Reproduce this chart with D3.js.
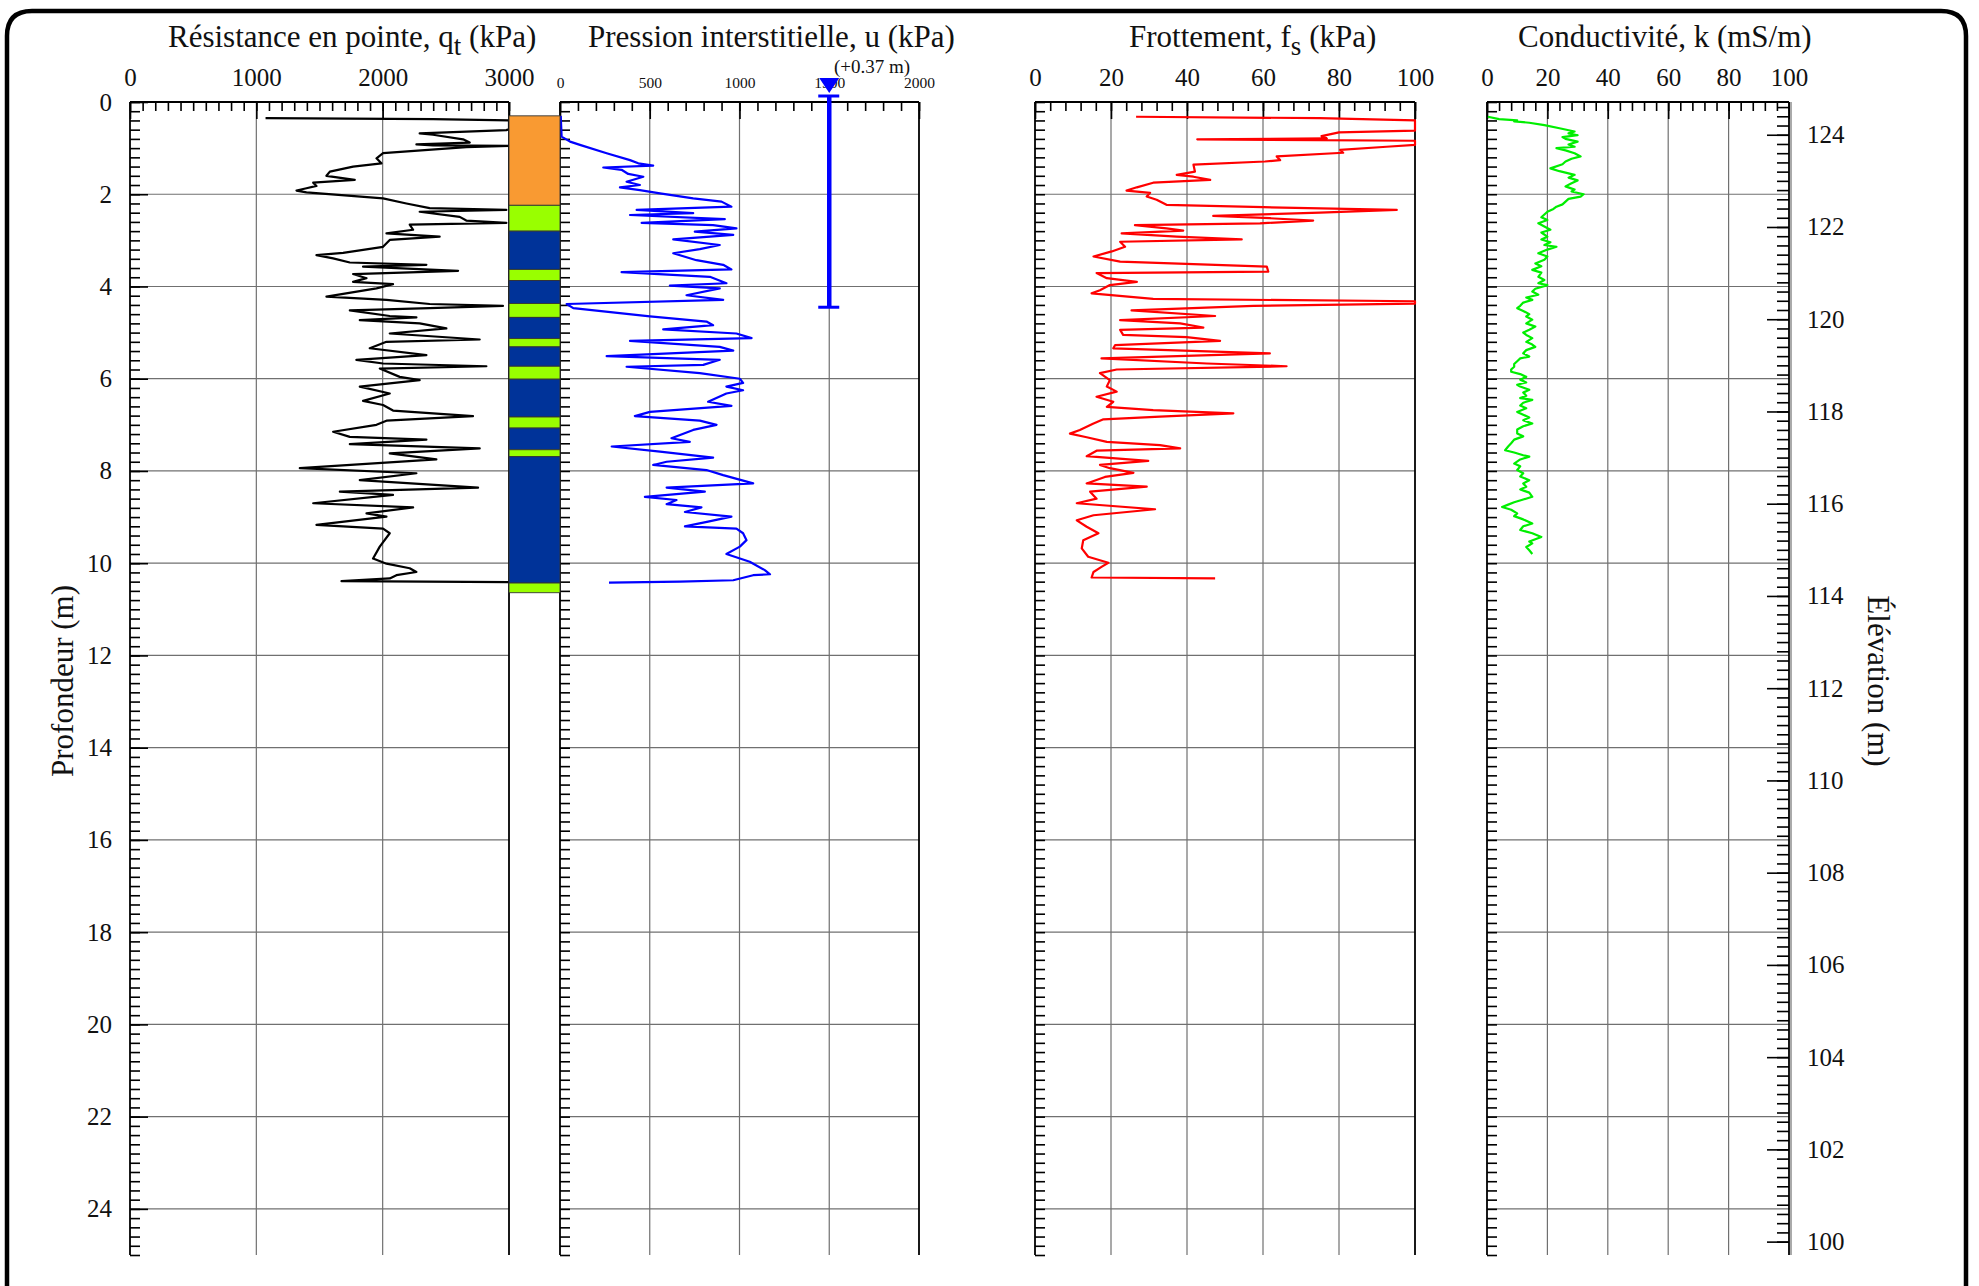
<!DOCTYPE html>
<html>
<head>
<meta charset="utf-8">
<script src="https://cdn.jsdelivr.net/npm/d3@7"></script>
<style>
  body { margin: 0; background: #fff; }
  text { font-family: 'Liberation Serif', 'Times New Roman', serif; fill: #111; }
  .grid line { stroke: #707070; stroke-width: 1.2; }
  .frame line { stroke: #000; stroke-width: 1.8; }
  .ticks line { stroke: #000; stroke-width: 1.6; }
  .ticks path { display: none; }
  .curve { fill: none; stroke-width: 2.2; stroke-linejoin: round; }
</style>
</head>
<body>
<svg width="1979" height="1286"></svg>
<script>
// ---- data ----
// depth (m), value
var qtData = [[0.35,1073],[0.37,2400],[0.40,3000],[0.59,3000],[0.61,2979],[0.68,2293],[0.71,2399],[0.81,2636],[0.88,2689],[0.92,2267],[0.94,2399],[0.95,3000],[0.98,2662],
  [1.11,2003],[1.22,1951],[1.33,1990],[1.40,1766],[1.51,1582],[1.60,1555],[1.69,1779],[1.75,1450],[1.82,1476],[1.87,1397],[1.92,1318],[1.96,1397],
  [2.09,2003],[2.20,2188],[2.30,2372],[2.34,2979],[2.38,2293],[2.49,2610],[2.57,2662],[2.62,2979],[2.66,2214],[2.77,2241],[2.85,2030],[2.92,2451],[2.99,2056],
  [3.14,2003],[3.27,1687],[3.32,1476],[3.39,1608],[3.48,1740],[3.53,2346],[3.57,1845],[3.66,2597],[3.73,1766],[3.82,1872],[3.90,1766],[3.95,2082],
  [4.04,1951],[4.22,1555],[4.29,2030],[4.38,2372],[4.42,2952],[4.47,2372],[4.52,1740],[4.64,2056],[4.67,2267],[4.73,1819],[4.80,2293],[4.91,2504],
  [5.02,2056],[5.15,2768],[5.20,2030],[5.34,1898],[5.49,2346],[5.59,1792],[5.67,2003],[5.73,2821],[5.78,1977],[5.96,2135],
  [6.03,2293],[6.17,1819],[6.32,2056],[6.48,1845],[6.57,2003],[6.69,2082],[6.81,2715],[6.91,2030],
  [7.00,1951],[7.15,1608],[7.26,1740],[7.32,2346],[7.42,1740],[7.51,2768],[7.62,2056],[7.75,2425],[7.94,1344],
  [8.05,2267],[8.20,1819],[8.36,2755],[8.45,1661],[8.52,2082],[8.70,1450],[8.79,2241],[8.92,1872],[8.99,2030],
  [9.17,1476],[9.25,2003],[9.35,2056],[9.64,1977],[9.90,1924],[10.01,2030],[10.11,2214],[10.19,2267],[10.26,2109],[10.33,2056],[10.39,1674],[10.41,3000]];

var uData = [[0.30,4],[0.75,9],[0.86,56],[0.93,111],[1.11,260],[1.26,390],[1.33,436],[1.38,519],[1.42,241],[1.47,343],[1.56,380],[1.62,464],[1.73,371],[1.80,445],[1.85,334],[1.91,445],[1.98,557],
  [2.09,742],[2.16,900],[2.27,955],[2.34,427],[2.41,742],[2.45,390],[2.54,918],[2.62,455],[2.67,853],[2.74,983],[2.81,751],[2.88,965],[2.98,631],
  [3.10,890],[3.19,779],[3.28,631],[3.43,760],[3.53,909],[3.63,955],[3.69,343],[3.79,835],[3.93,927],[3.98,612],
  [4.04,890],[4.19,705],[4.29,909],[4.38,37],[4.47,74],[4.65,501],[4.76,816],[4.84,853],[4.93,575],
  [5.02,983],[5.12,1067],[5.18,390],[5.31,890],[5.39,965],[5.51,260],[5.59,890],[5.70,798],[5.74,371],[5.88,779],
  [6.00,1002],[6.09,1020],[6.17,927],[6.25,1020],[6.32,927],[6.50,825],[6.59,955],[6.72,501],[6.81,417],[6.91,779],
  [7.00,872],[7.11,742],[7.29,621],[7.37,723],[7.47,288],[7.58,557],[7.71,853],[7.80,594],[7.87,519],[7.98,816],
  [8.09,909],[8.27,1076],[8.36,594],[8.45,807],[8.56,473],[8.63,649],[8.72,594],[8.79,788],[8.89,696],[8.99,955],
  [9.10,825],[9.20,696],[9.25,983],[9.35,1020],[9.50,1039],[9.64,1002],[9.80,927],[9.97,1057],
  [10.15,1141],[10.24,1170],[10.26,1076],[10.37,965],[10.40,668],[10.42,273]];

var fsData = [[0.32,26.6],[0.35,75],[0.40,100],[0.62,100],[0.66,80],[0.74,75.4],[0.79,76.8],[0.81,42.7],[0.84,100],[0.93,100],[0.97,92.5],
  [1.04,80.3],[1.10,81.1],[1.18,63.6],[1.26,64.5],[1.29,60.5],[1.36,41.7],[1.51,42.1],[1.58,37.3],[1.62,41.7],[1.69,46.1],[1.75,31.1],[1.85,26.8],[1.92,24.1],[1.97,30.3],
  [2.05,29.4],[2.12,32],[2.23,34.6],[2.28,60.1],[2.34,95.2],[2.40,75],[2.47,46.9],[2.52,61.8],[2.57,73.2],[2.63,59.2],[2.67,26.3],[2.74,34.6],[2.79,39],[2.85,22.8],[2.92,37.3],[2.98,54.4],
  [3.03,22.4],[3.14,23.7],[3.24,20.2],[3.35,15.4],[3.46,22.4],[3.57,61],[3.68,61.4],[3.71,16.2],[3.82,18.9],[3.90,26.8],[3.97,19.7],
  [4.08,17.1],[4.15,14.9],[4.27,31.1],[4.32,100],[4.37,100],[4.42,57.5],[4.52,25.4],[4.64,47.4],[4.73,22.4],[4.80,38.2],[4.89,44.3],[4.94,22.4],
  [5.05,23.2],[5.10,39.9],[5.18,48.7],[5.27,21.1],[5.34,20.6],[5.45,61.8],[5.56,17.5],[5.67,45.2],[5.73,66.2],[5.80,21.5],[5.88,17.1],
  [6.03,19.7],[6.17,18.9],[6.28,21.5],[6.39,16.2],[6.50,20.6],[6.61,18.9],[6.68,31.1],[6.75,52.2],[6.82,32.9],[6.88,18],[6.97,15.4],
  [7.11,11.8],[7.19,9.2],[7.27,13.6],[7.37,18.9],[7.44,32.9],[7.51,38.2],[7.56,16.2],[7.68,13.6],[7.78,29.8],[7.87,17.1],[7.94,19.7],
  [8.04,25.9],[8.13,18.4],[8.27,13.6],[8.34,29.4],[8.45,14.5],[8.60,16.2],[8.70,11],[8.83,31.6],[8.96,15.4],
  [9.07,11],[9.21,13.6],[9.35,16.7],[9.50,12.7],[9.68,12.3],[9.86,14],[9.99,19.3],[10.08,17.5],[10.19,15.4],[10.31,14.9],[10.33,47.4]];

var kData = [[0.32,0.3],[0.37,4],[0.40,10],[0.42,9],[0.45,14],[0.50,19],[0.57,24],[0.64,29],[0.68,27],[0.72,30],[0.76,25],[0.80,26],[0.86,30],[0.92,27],[0.97,29],
  [1.00,23],[1.05,26],[1.11,29],[1.18,31],[1.23,28],[1.29,26],[1.35,25],[1.44,21],[1.50,24],[1.58,29],[1.64,27],[1.70,30],[1.76,28],[1.83,26],[1.90,29],[1.94,28],
  [2.00,32],[2.05,31],[2.10,27],[2.16,26],[2.22,25],[2.27,23],[2.32,22],[2.38,20],[2.44,19],[2.50,18],[2.56,20],[2.63,17],[2.70,19],[2.77,21],[2.83,18],[2.92,20],[2.98,18],
  [3.04,21],[3.10,19],[3.14,23],[3.20,20],[3.28,17],[3.35,20],[3.42,19],[3.50,16],[3.56,18],[3.64,15],[3.70,18],[3.79,17],[3.86,19],[3.93,17],[3.97,20],
  [4.05,16],[4.11,15],[4.18,17],[4.24,13],[4.29,15],[4.35,12],[4.42,11],[4.47,10],[4.53,12],[4.60,14],[4.65,13],[4.72,15],[4.80,13],[4.87,16],[4.94,14],
  [5.00,12],[5.05,13],[5.12,15],[5.20,13],[5.26,15],[5.31,16],[5.38,13],[5.45,12],[5.52,14],[5.56,11],[5.62,10],[5.68,9],[5.74,9],[5.80,8],[5.85,8],[5.90,11],[5.96,13],
  [6.02,11],[6.08,13],[6.13,10],[6.17,11],[6.24,14],[6.30,12],[6.37,13],[6.42,11],[6.46,15],[6.52,12],[6.58,11],[6.64,13],[6.72,10],[6.78,12],[6.84,14],[6.90,12],[6.97,15],
  [7.03,12],[7.10,10],[7.19,10],[7.25,12],[7.32,9],[7.40,8],[7.47,7],[7.55,6],[7.60,9],[7.66,12],[7.69,14],[7.75,11],[7.84,9],[7.90,11],[7.98,10],
  [8.05,12],[8.12,11],[8.20,14],[8.27,12],[8.34,13],[8.40,11],[8.47,14],[8.56,15],[8.62,12],[8.68,9],[8.73,7],[8.78,5],[8.84,8],[8.92,10],[8.98,9],
  [9.05,12],[9.14,15],[9.20,12],[9.28,11],[9.35,15],[9.43,18],[9.48,16],[9.53,14],[9.57,15],[9.65,13],[9.72,14],[9.80,15]];

// soil column: layer boundaries (m) and layer type between them
var soilBounds = [0.30, 2.24, 2.80, 3.63, 3.87, 4.37, 4.67, 5.13, 5.31, 5.73, 6.01, 6.83, 7.07, 7.54, 7.69, 10.43, 10.64];
var soilTypes = ["fill", "sand", "clay", "sand", "clay", "sand", "clay", "sand", "clay", "sand", "clay", "sand", "clay", "sand", "clay", "sand"];
var soilColors = {fill: "#F99A32", sand: "#99FF00", clay: "#003399"};

// water level marker on the pore pressure track
var waterU = 1500, waterTop = -0.13, waterBottom = 4.45, waterLabel = "(+0.37 m)";

// axes
var depthMax = 25, surfaceElev = 124.71;
var depthLabels = d3.range(0, 25, 2);
var elevLabels = d3.range(100, 125, 2);
var qtTicks = d3.range(0, 3001, 100), qtLabels = [0, 1000, 2000, 3000];
var uTicks = d3.range(0, 2001, 100), uLabels = [0, 500, 1000, 1500, 2000];
var fsTicks = d3.range(0, 101, 4), fsLabels = [0, 20, 40, 60, 80, 100];
var kTicks = d3.range(0, 101, 4), kLabels = [0, 20, 40, 60, 80, 100];

// ---- drawing ----
var svg = d3.select("svg");
var top0 = 102, bottom0 = 1255;
var y = d3.scaleLinear().domain([0, depthMax]).range([top0, bottom0]);
var yElev = d3.scaleLinear().domain([surfaceElev, surfaceElev - depthMax]).range([top0, bottom0]);

var panels = [
  {x: d3.scaleLinear().domain([0, 3000]).range([130, 509]).clamp(true), data: qtData, color: "#000", ticks: qtTicks, labels: qtLabels, font: 25, pad: 16},
  {x: d3.scaleLinear().domain([0, 2000]).range([560, 919]).clamp(true), data: uData, color: "#0000FF", ticks: uTicks, labels: uLabels, font: 15.5, pad: 14.5},
  {x: d3.scaleLinear().domain([0, 100]).range([1035, 1415]).clamp(true), data: fsData, color: "#FF0000", ticks: fsTicks, labels: fsLabels, font: 25, pad: 16},
  {x: d3.scaleLinear().domain([0, 100]).range([1487, 1789]).clamp(true), data: kData, color: "#00EE00", ticks: kTicks, labels: kLabels, font: 25, pad: 16}
];

// outer rounded frame (bottom runs off the page)
svg.append("path")
  .attr("d", "M7,1300 L7,36 Q7,11 32,11 L1941,11 Q1966,11 1966,36 L1966,1300")
  .attr("fill", "none").attr("stroke", "#000").attr("stroke-width", 4.5);

var minorDepth = d3.range(0, 126).map(function(i) { return i * 0.2; });
var gridDepth = d3.range(2, 25, 2);

panels.forEach(function(p, i) {
  var x0 = p.x.range()[0], x1 = p.x.range()[1];
  var g = svg.append("g");

  // grid
  var grid = g.append("g").attr("class", "grid");
  grid.selectAll(".h").data(gridDepth).enter().append("line")
    .attr("x1", x0).attr("x2", x1).attr("y1", function(d) { return y(d); }).attr("y2", function(d) { return y(d); });
  grid.selectAll(".v").data(p.labels.slice(1, -1)).enter().append("line")
    .attr("x1", function(d) { return p.x(d); }).attr("x2", function(d) { return p.x(d); })
    .attr("y1", top0).attr("y2", bottom0);

  // top ticks + labels
  g.append("g").attr("class", "ticks").attr("transform", "translate(0," + top0 + ")")
    .call(d3.axisTop(p.x).tickValues(p.ticks).tickSize(-9).tickFormat(""));
  var lab = g.append("g").attr("class", "ticks").attr("transform", "translate(0," + top0 + ")")
    .call(d3.axisTop(p.x).tickValues(p.labels).tickSize(-17).tickPadding(p.pad).tickFormat(d3.format("d")));
  lab.selectAll("text").attr("font-size", p.font).attr("fill", "#111")
    .style("font-family", "'Liberation Serif', 'Times New Roman', serif");

  // left depth ticks
  g.append("g").attr("class", "ticks").attr("transform", "translate(" + x0 + ",0)")
    .call(d3.axisLeft(y).tickValues(minorDepth).tickSize(-10).tickFormat(""));

  // frame
  var fr = g.append("g").attr("class", "frame");
  fr.append("line").attr("x1", x0).attr("x2", x1).attr("y1", top0).attr("y2", top0);
  fr.append("line").attr("x1", x0).attr("x2", x0).attr("y1", top0).attr("y2", bottom0).attr("stroke-width", 2.4);
  fr.append("line").attr("x1", x1).attr("x2", x1).attr("y1", top0).attr("y2", bottom0);

  // curve
  g.append("path").datum(p.data).attr("class", "curve").attr("stroke", p.color)
    .attr("d", d3.line().x(function(d) { return p.x(d[1]); }).y(function(d) { return y(d[0]); }));
});

// depth labels (left of first track)
var dAx = svg.append("g").attr("class", "ticks").attr("transform", "translate(130,0)")
  .call(d3.axisLeft(y).tickValues(depthLabels).tickSize(-18).tickPadding(18).tickFormat(d3.format("d")));
dAx.selectAll("text").attr("font-size", 25).attr("fill", "#111")
  .style("font-family", "'Liberation Serif', 'Times New Roman', serif");

// elevation axis (right of last track)
var elevMinor = d3.range(500, 624).map(function(i) { return i / 5; });
svg.append("g").attr("class", "ticks").attr("transform", "translate(1789,0)")
  .call(d3.axisRight(yElev).tickValues(elevMinor).tickSize(-12).tickFormat(""));
var eAx = svg.append("g").attr("class", "ticks").attr("transform", "translate(1789,0)")
  .call(d3.axisRight(yElev).tickValues(elevLabels).tickSize(-22).tickPadding(18).tickFormat(d3.format("d")));
eAx.selectAll("text").attr("font-size", 25).attr("fill", "#111")
  .style("font-family", "'Liberation Serif', 'Times New Roman', serif");
svg.append("line").attr("x1", 1791).attr("x2", 1791).attr("y1", top0).attr("y2", bottom0)
  .attr("stroke", "#aaa").attr("stroke-width", 2);

// soil column
var soil = svg.append("g");
soil.selectAll("rect").data(soilTypes).enter().append("rect")
  .attr("x", 509).attr("width", 51)
  .attr("y", function(d, i) { return y(soilBounds[i]); })
  .attr("height", function(d, i) { return y(soilBounds[i + 1]) - y(soilBounds[i]); })
  .attr("fill", function(d) { return soilColors[d]; })
  .attr("stroke", "#333").attr("stroke-width", 0.9);

// water level marker
var xu = panels[1].x;
svg.append("text").attr("x", 872).attr("y", 73).attr("text-anchor", "middle").attr("font-size", 19).text(waterLabel);
var wm = svg.append("g").attr("fill", "#0000FF").attr("stroke", "#0000FF");
wm.append("line").attr("x1", xu(waterU)).attr("x2", xu(waterU)).attr("y1", y(waterTop)).attr("y2", y(waterBottom)).attr("stroke-width", 4.5);
wm.append("line").attr("x1", xu(waterU) - 11).attr("x2", xu(waterU) + 10).attr("y1", y(waterTop)).attr("y2", y(waterTop)).attr("stroke-width", 3);
wm.append("line").attr("x1", xu(waterU) - 11).attr("x2", xu(waterU) + 10).attr("y1", y(waterBottom)).attr("y2", y(waterBottom)).attr("stroke-width", 3);
wm.append("path").attr("stroke", "none")
  .attr("d", "M" + (xu(waterU) - 10) + "," + (y(waterTop) - 18) + " L" + (xu(waterU) + 10) + "," + (y(waterTop) - 18) +
             " L" + xu(waterU) + "," + (y(waterTop) - 3) + " Z");

// titles
function title(x, main, sub, rest) {
  var t = svg.append("text").attr("x", x).attr("y", 47).attr("font-size", 31);
  t.append("tspan").text(main);
  if (sub) {
    t.append("tspan").attr("dy", 8).attr("font-size", 27).text(sub);
    t.append("tspan").attr("dy", -8).text(rest);
  }
}
title(168, "Résistance en pointe, q", "t", " (kPa)");
title(588, "Pression interstitielle, u (kPa)");
title(1129, "Frottement, f", "s", " (kPa)");
title(1518, "Conductivité, k (mS/m)");

svg.append("text").attr("transform", "translate(62,681) rotate(-90)").attr("text-anchor", "middle")
  .attr("dominant-baseline", "central").attr("font-size", 31).text("Profondeur (m)");
svg.append("text").attr("transform", "translate(1878,681) rotate(90)").attr("text-anchor", "middle")
  .attr("dominant-baseline", "central").attr("font-size", 31).text("Élévation (m)");
</script>
</body>
</html>
